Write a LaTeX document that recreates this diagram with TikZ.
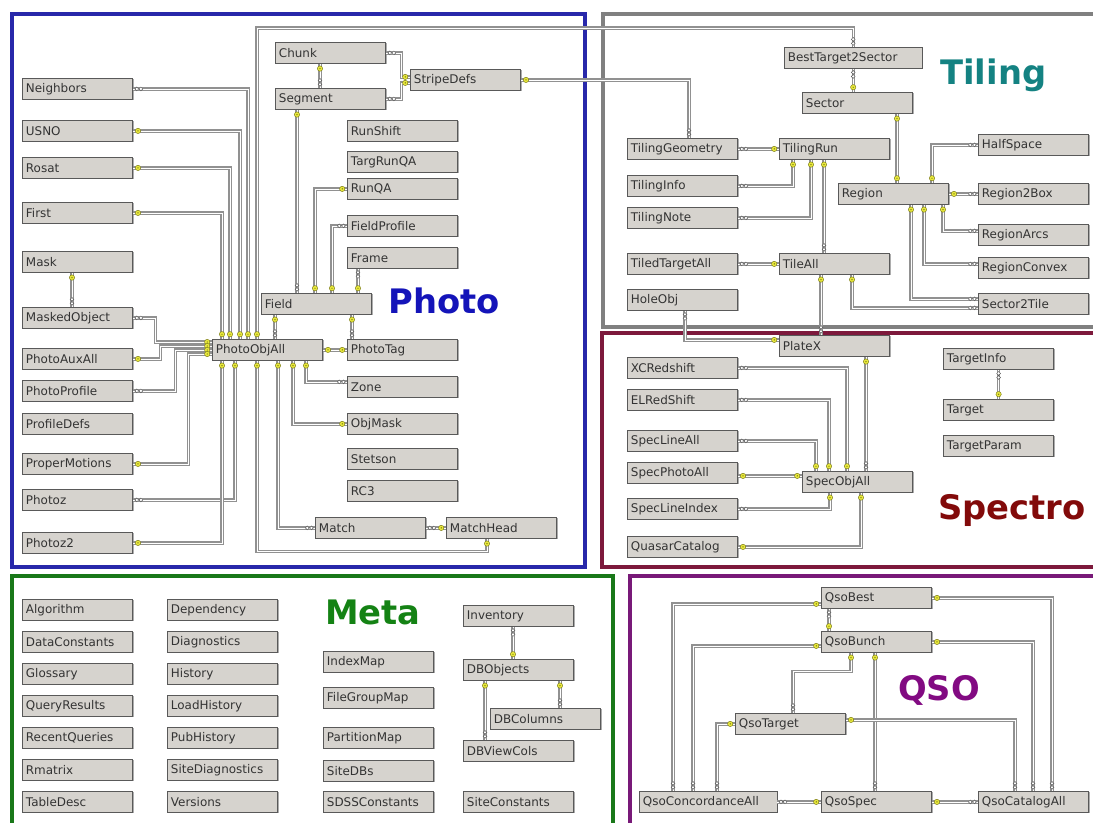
\documentclass[tikz,border=0pt]{standalone}
\usepackage{fontspec}
\setmainfont{DejaVu Sans}
\usepackage{tikz}
\usetikzlibrary{calc, decorations.markings, shadows}

\definecolor{tblgray}{RGB}{214,211,206}
\definecolor{keyfill}{RGB}{232,232,60}
\definecolor{keyedge}{RGB}{120,120,20}
\definecolor{linkgray}{RGB}{145,145,145}
\definecolor{photoblue}{RGB}{40,40,170}
\definecolor{phototext}{RGB}{20,20,185}
\definecolor{tilinggray}{RGB}{128,128,128}
\definecolor{tilingtext}{RGB}{20,130,130}
\definecolor{spectrored}{RGB}{125,25,60}
\definecolor{spectrotext}{RGB}{130,10,10}
\definecolor{qsopurple}{RGB}{120,25,120}
\definecolor{qsotext}{RGB}{130,10,130}
\definecolor{metagreen}{RGB}{25,120,25}
\definecolor{metatext}{RGB}{20,130,20}

\newcommand{\keymark}{\draw[keyedge, fill=keyfill, line width=0.3pt] (0,0) circle (1.9pt);
    \fill[keyedge] (0,0) circle (0.5pt);}
\newcommand{\manymark}{\draw[gray!70!black, fill=white, line width=0.35pt] (-1.45pt,0) circle (1.35pt) (1.45pt,0) circle (1.35pt);}

\tikzset{
    tbl/.style={draw=gray!70!black, fill=tblgray, line width=0.6pt, anchor=north west,
        inner xsep=2.5pt, inner ysep=0pt, text width=73.5pt, minimum height=14.9pt,
        align=left, text=black!80, font=\fontsize{8.5}{10}\selectfont,
        drop shadow={shadow xshift=0.6pt, shadow yshift=-0.6pt, fill=gray!80, opacity=0.8}},
    widetbl/.style={tbl, text width=92.8pt},
    conn/.style={draw=linkgray, line width=0.95pt, double=white, double distance=0.5pt},
    ks/.style={postaction={draw=none, decorate, decoration={markings, mark=at position 3.4pt with {\keymark}}}},
    ke/.style={postaction={draw=none, decorate, decoration={markings, mark=at position -3.4pt with {\keymark}}}},
    ms/.style={postaction={draw=none, decorate, decoration={markings, mark=at position 4pt with {\manymark}}}},
    me/.style={postaction={draw=none, decorate, decoration={markings, mark=at position -4pt with {\manymark}}}},
    groupframe/.style={line width=2.2pt},
    grouplabel/.style={anchor=base west, inner sep=0pt, font=\fontsize{24}{28}\selectfont\bfseries}
}

\begin{document}
\begin{tikzpicture}[x=0.025cm, y=-0.025cm]
    \useasboundingbox (0,0) rectangle (1093,823);

    % Group frames
    \draw[groupframe, photoblue] (12,14) rectangle (585,567);
    \draw[groupframe, tilinggray] (603,14) rectangle (1098,327);
    \draw[groupframe, spectrored] (602,333) rectangle (1098,567);
    \draw[groupframe, metagreen] (12,576) rectangle (613,830);
    \draw[groupframe, qsopurple] (630,576) rectangle (1098,830);

    % Group titles
    \node[grouplabel, text=phototext] (photolabel) at (388,313) {Photo};
    \node[grouplabel, text=tilingtext] (tilinglabel) at (940,84) {Tiling};
    \node[grouplabel, text=spectrotext] (spectrolabel) at (938,519) {Spectro};
    \node[grouplabel, text=qsotext] (qsolabel) at (898,700) {QSO};
    \node[grouplabel, text=metatext] (metalabel) at (325,624) {Meta};

    % Photo tables
    \node[tbl] (Neighbors) at (22,78) {Neighbors};
    \node[tbl] (USNO) at (22,120) {USNO};
    \node[tbl] (Rosat) at (22,157) {Rosat};
    \node[tbl] (First) at (22,202) {First};
    \node[tbl] (Mask) at (22,251) {Mask};
    \node[tbl] (MaskedObject) at (22,307) {MaskedObject};
    \node[tbl] (PhotoAuxAll) at (22,348) {PhotoAuxAll};
    \node[tbl] (PhotoProfile) at (22,380) {PhotoProfile};
    \node[tbl] (ProfileDefs) at (22,413) {ProfileDefs};
    \node[tbl] (ProperMotions) at (22,453) {ProperMotions};
    \node[tbl] (Photoz) at (22,489) {Photoz};
    \node[tbl] (Photoz2) at (22,532) {Photoz2};
    \node[tbl] (Chunk) at (275,42) {Chunk};
    \node[tbl] (Segment) at (275,88) {Segment};
    \node[tbl] (StripeDefs) at (410,69) {StripeDefs};
    \node[tbl] (RunShift) at (347,120) {RunShift};
    \node[tbl] (TargRunQA) at (347,151) {TargRunQA};
    \node[tbl] (RunQA) at (347,178) {RunQA};
    \node[tbl] (FieldProfile) at (347,215) {FieldProfile};
    \node[tbl] (Frame) at (347,247) {Frame};
    \node[tbl] (Field) at (261,293) {Field};
    \node[tbl] (PhotoObjAll) at (212,339) {PhotoObjAll};
    \node[tbl] (PhotoTag) at (347,339) {PhotoTag};
    \node[tbl] (Zone) at (347,376) {Zone};
    \node[tbl] (ObjMask) at (347,413) {ObjMask};
    \node[tbl] (Stetson) at (347,448) {Stetson};
    \node[tbl] (RC3) at (347,480) {RC3};
    \node[tbl] (Match) at (315,517) {Match};
    \node[tbl] (MatchHead) at (446,517) {MatchHead};

    % Tiling tables
    \node[widetbl] (BestTarget2Sector) at (784,47) {BestTarget2Sector};
    \node[tbl] (Sector) at (802,92) {Sector};
    \node[tbl] (TilingGeometry) at (627,138) {TilingGeometry};
    \node[tbl] (TilingRun) at (779,138) {TilingRun};
    \node[tbl] (TilingInfo) at (627,175) {TilingInfo};
    \node[tbl] (TilingNote) at (627,207) {TilingNote};
    \node[tbl] (Region) at (838,183) {Region};
    \node[tbl] (HalfSpace) at (978,134) {HalfSpace};
    \node[tbl] (Region2Box) at (978,183) {Region2Box};
    \node[tbl] (RegionArcs) at (978,224) {RegionArcs};
    \node[tbl] (RegionConvex) at (978,257) {RegionConvex};
    \node[tbl] (Sector2Tile) at (978,293) {Sector2Tile};
    \node[tbl] (TiledTargetAll) at (627,253) {TiledTargetAll};
    \node[tbl] (TileAll) at (779,253) {TileAll};
    \node[tbl] (HoleObj) at (627,289) {HoleObj};

    % Spectro tables
    \node[tbl] (PlateX) at (779,335) {PlateX};
    \node[tbl] (XCRedshift) at (627,357) {XCRedshift};
    \node[tbl] (ELRedShift) at (627,389) {ELRedShift};
    \node[tbl] (SpecLineAll) at (627,430) {SpecLineAll};
    \node[tbl] (SpecPhotoAll) at (627,462) {SpecPhotoAll};
    \node[tbl] (SpecLineIndex) at (627,498) {SpecLineIndex};
    \node[tbl] (QuasarCatalog) at (627,536) {QuasarCatalog};
    \node[tbl] (SpecObjAll) at (802,471) {SpecObjAll};
    \node[tbl] (TargetInfo) at (943,348) {TargetInfo};
    \node[tbl] (Target) at (943,399) {Target};
    \node[tbl] (TargetParam) at (943,435) {TargetParam};

    % QSO tables
    \node[tbl] (QsoBest) at (821,587) {QsoBest};
    \node[tbl] (QsoBunch) at (821,631) {QsoBunch};
    \node[tbl] (QsoTarget) at (735,713) {QsoTarget};
    \node[widetbl] (QsoConcordanceAll) at (639,791) {QsoConcordanceAll};
    \node[tbl] (QsoSpec) at (821,791) {QsoSpec};
    \node[tbl] (QsoCatalogAll) at (978,791) {QsoCatalogAll};

    % Meta tables
    \foreach \tname [count=\i from 0] in {Algorithm, DataConstants, Glossary, QueryResults, RecentQueries, Rmatrix, TableDesc}
        \node[tbl] (\tname) at (22,599+32*\i) {\tname};
    \foreach \tname [count=\i from 0] in {Dependency, Diagnostics, History, LoadHistory, PubHistory, SiteDiagnostics, Versions}
        \node[tbl] (\tname) at (167,599+32*\i) {\tname};
    \node[tbl] (IndexMap) at (323,651) {IndexMap};
    \node[tbl] (FileGroupMap) at (323,687) {FileGroupMap};
    \node[tbl] (PartitionMap) at (323,727) {PartitionMap};
    \node[tbl] (SiteDBs) at (323,760) {SiteDBs};
    \node[tbl] (SDSSConstants) at (323,791) {SDSSConstants};
    \node[tbl] (Inventory) at (463,605) {Inventory};
    \node[tbl] (DBObjects) at (463,659) {DBObjects};
    \node[tbl] (DBColumns) at (490,708) {DBColumns};
    \node[tbl] (DBViewCols) at (463,740) {DBViewCols};
    \node[tbl] (SiteConstants) at (463,791) {SiteConstants};

    % Photo links
    \draw[conn, ms, ke] (Neighbors.east) -| ($(PhotoObjAll.north west)+(36,0)$);
    \draw[conn, ks, ke] (USNO.east) -| ($(PhotoObjAll.north west)+(28,0)$);
    \draw[conn, ks, ke] (Rosat.east) -| ($(PhotoObjAll.north west)+(18,0)$);
    \draw[conn, ks, ke] (First.east) -| ($(PhotoObjAll.north west)+(10,0)$);
    \draw[conn, ks, me] ($(Mask.south west)+(50,0)$) -- ($(MaskedObject.north west)+(50,0)$);
    \draw[conn, ms, ke] (MaskedObject.east) -- ++(22,0) |- ($(PhotoObjAll.north west)+(0,3)$);
    \draw[conn, ks, ke] (PhotoAuxAll.east) -- ++(27,0) |- ($(PhotoObjAll.north west)+(0,7)$);
    \draw[conn, ms, ke] (PhotoProfile.east) -- ++(42,0) |- ($(PhotoObjAll.north west)+(0,11)$);
    \draw[conn, ks, ke] (ProperMotions.east) -- ++(55,0) |- ($(PhotoObjAll.north west)+(0,15)$);
    \draw[conn, ms, ke] (Photoz.east) -| ($(PhotoObjAll.south west)+(23,0)$);
    \draw[conn, ks, ke] (Photoz2.east) -| ($(PhotoObjAll.south west)+(10,0)$);
    \draw[conn, ks, ke] ($(PhotoObjAll.south west)+(45,0)$) -- ++(0,191) -| ($(MatchHead.south west)+(41,0)$);
    \draw[conn, ks, me] ($(PhotoObjAll.south west)+(66,0)$) |- (Match.west);
    \draw[conn, ks, ke] ($(PhotoObjAll.south west)+(81,0)$) |- (ObjMask.west);
    \draw[conn, ks, me] ($(PhotoObjAll.south west)+(94,0)$) |- ($(Zone.west)+(0,-5)$);
    \draw[conn, ks, ke] (PhotoObjAll.east) -- (PhotoTag.west);
    \draw[conn, ms, ke] (Match.east) -- (MatchHead.west);
    \draw[conn, ks, me] ($(PhotoObjAll.north west)+(45,0)$) -- ++(0,-311) -| (BestTarget2Sector.north);
    \draw[conn, ks, me] ($(Field.south west)+(14,0)$) -- ($(PhotoObjAll.north west)+(63,0)$);
    \draw[conn, ks, me] ($(Field.south west)+(91,0)$) -- ($(PhotoTag.north west)+(5,0)$);
    \draw[conn, ks, me] ($(Segment.south west)+(22,0)$) -- ($(Field.north west)+(36,0)$);
    \draw[conn, ks, ke] ($(Field.north west)+(54,0)$) |- (RunQA.west);
    \draw[conn, ks, me] ($(Field.north west)+(71,0)$) |- (FieldProfile.west);
    \draw[conn, ks, me] ($(Field.north west)+(97,0)$) -- ($(Frame.south west)+(11,0)$);
    \draw[conn, ks, me] ($(Chunk.south west)+(45,0)$) -- ($(Segment.north west)+(45,0)$);
    \draw[conn, ms, ke] (Chunk.east) -- ++(15,0) |- ($(StripeDefs.west)+(0,-3)$);
    \draw[conn, ms, ke] (Segment.east) -- ++(15,0) |- ($(StripeDefs.west)+(0,3)$);
    \draw[conn, ks, me] (StripeDefs.east) -| ($(TilingGeometry.north west)+(62,0)$);

    % Tiling links
    \draw[conn, ms, ke] (BestTarget2Sector.south) -- (BestTarget2Sector.south |- Sector.north);
    \draw[conn, ks, ke] ($(Sector.south west)+(95,0)$) -- ($(Region.north west)+(59,0)$);
    \draw[conn, ms, ke] (TilingGeometry.east) -- (TilingRun.west);
    \draw[conn, ms, ke] (TilingInfo.east) -| ($(TilingRun.south west)+(14,0)$);
    \draw[conn, ms, ke] (TilingNote.east) -| ($(TilingRun.south west)+(32,0)$);
    \draw[conn, ks, me] ($(TilingRun.south west)+(45,0)$) -- ($(TileAll.north west)+(45,0)$);
    \draw[conn, ms, ke] (TiledTargetAll.east) -- (TileAll.west);
    \draw[conn, ks, me] ($(TileAll.south west)+(42,0)$) -- ($(PlateX.north west)+(42,0)$);
    \draw[conn, ks, me] ($(TileAll.south west)+(73,0)$) |- ($(Sector2Tile.west)+(0,4)$);
    \draw[conn, ks, me] ($(Region.south west)+(73,0)$) |- ($(Sector2Tile.west)+(0,-5)$);
    \draw[conn, ks, me] ($(Region.south west)+(86,0)$) |- ($(RegionConvex.west)+(0,-4)$);
    \draw[conn, ks, me] ($(Region.south west)+(105,0)$) |- ($(RegionArcs.west)+(0,-4)$);
    \draw[conn, ks, me] (Region.east) -- (Region2Box.west);
    \draw[conn, ks, me] ($(Region.north west)+(94,0)$) |- (HalfSpace.west);
    \draw[conn, ms, ke] ($(HoleObj.south west)+(58,0)$) |- ($(PlateX.west)+(0,-6)$);

    % Spectro links
    \draw[conn, ms, ke] (XCRedshift.east) -| ($(SpecObjAll.north west)+(45,0)$);
    \draw[conn, ms, ke] (ELRedShift.east) -| ($(SpecObjAll.north west)+(27,0)$);
    \draw[conn, ms, ke] (SpecLineAll.east) -| ($(SpecObjAll.north west)+(14,0)$);
    \draw[conn, ks, me] ($(PlateX.south west)+(87,0)$) -- ($(SpecObjAll.north west)+(64,0)$);
    \draw[conn, ks, ke] ($(SpecPhotoAll.east)+(0,3)$) -- ($(SpecObjAll.west)+(0,-6)$);
    \draw[conn, ms, ke] (SpecLineIndex.east) -| ($(SpecObjAll.south west)+(28,0)$);
    \draw[conn, ks, ke] (QuasarCatalog.east) -| ($(SpecObjAll.south west)+(59,0)$);
    \draw[conn, ms, ke] (TargetInfo.south) -- (Target.north);

    % QSO links
    \draw[conn, ks, me] ($(QsoBest.west)+(0,6)$) -| ($(QsoConcordanceAll.north west)+(34,0)$);
    \draw[conn, ks, me] (QsoBest.east) -| ($(QsoCatalogAll.north west)+(74,0)$);
    \draw[conn, ms, ke] ($(QsoBest.south west)+(8,0)$) -- ($(QsoBunch.north west)+(8,0)$);
    \draw[conn, ks, me] ($(QsoBunch.west)+(0,4)$) -| ($(QsoConcordanceAll.north west)+(54,0)$);
    \draw[conn, ks, me] (QsoBunch.east) -| ($(QsoCatalogAll.north west)+(55,0)$);
    \draw[conn, ks, me] ($(QsoBunch.south west)+(30,0)$) -- ++(0,19) -| ($(QsoTarget.north west)+(58,0)$);
    \draw[conn, ks, me] ($(QsoBunch.south west)+(54,0)$) -- ($(QsoSpec.north west)+(54,0)$);
    \draw[conn, ks, me] (QsoTarget.west) -| ($(QsoConcordanceAll.north west)+(78,0)$);
    \draw[conn, ks, me] ($(QsoTarget.east)+(0,-4)$) -| ($(QsoCatalogAll.north west)+(37,0)$);
    \draw[conn, ms, ke] (QsoConcordanceAll.east) -- (QsoSpec.west);
    \draw[conn, ks, me] (QsoSpec.east) -- (QsoCatalogAll.west);

    % Meta links
    \draw[conn, ms, ke] ($(Inventory.south west)+(50,0)$) -- ($(DBObjects.north west)+(50,0)$);
    \draw[conn, ks, me] ($(DBObjects.south west)+(22,0)$) -- ($(DBViewCols.north west)+(22,0)$);
    \draw[conn, ks, me] ($(DBObjects.south west)+(97,0)$) -- ($(DBColumns.north west)+(70,0)$);

\end{tikzpicture}
\end{document}
